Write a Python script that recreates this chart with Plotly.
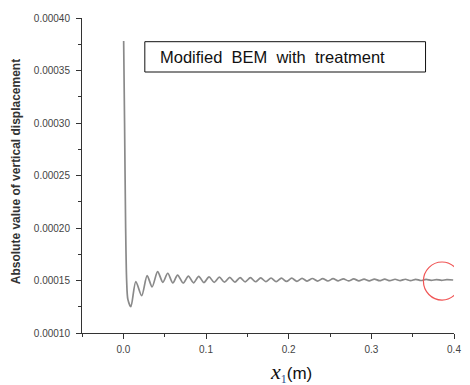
import plotly.graph_objects as go

# Curve (x1 in m, |vertical displacement|) read at extrema of the oscillation
x_vals = [0.0004, 0.0015, 0.0028, 0.0040, 0.0055, 0.0091, 0.0151, 0.0222, 0.0288, 0.0348,
          0.0415, 0.0478, 0.0537, 0.0599, 0.0656, 0.0724, 0.0787, 0.0849, 0.0912, 0.0974,
          0.1037, 0.1099, 0.1162, 0.1224, 0.1287, 0.1349, 0.1412, 0.1474, 0.1537, 0.1599,
          0.1662, 0.1724, 0.1787, 0.1849, 0.1912, 0.1974, 0.2037, 0.2099, 0.2162, 0.2224,
          0.2287, 0.2349, 0.2412, 0.2474, 0.2537, 0.2599, 0.2662, 0.2724, 0.2787, 0.2849,
          0.2912, 0.2974, 0.3037, 0.3099, 0.3162, 0.3224, 0.3287, 0.3349, 0.3412, 0.3474,
          0.3537, 0.3599, 0.3662, 0.3724, 0.3787, 0.3849, 0.3912, 0.3990]
y_vals = [0.0003780, 0.0003000, 0.0002000, 0.0001500, 0.0001320, 0.0001250, 0.0001490, 0.0001355,
          0.0001546, 0.0001440, 0.0001584, 0.0001483, 0.0001569, 0.0001476, 0.0001552, 0.0001476,
          0.0001542, 0.0001478, 0.0001540, 0.0001480, 0.0001535, 0.0001482, 0.0001532, 0.0001484,
          0.0001530, 0.0001485, 0.0001528, 0.0001487, 0.0001527, 0.0001488, 0.0001525, 0.0001489,
          0.0001524, 0.0001490, 0.0001523, 0.0001491, 0.0001522, 0.0001492, 0.0001520, 0.0001494,
          0.0001519, 0.0001494, 0.0001518, 0.0001495, 0.0001517, 0.0001496, 0.0001516, 0.0001496,
          0.0001515, 0.0001497, 0.0001514, 0.0001497, 0.0001514, 0.0001498, 0.0001513, 0.0001498,
          0.0001512, 0.0001499, 0.0001512, 0.0001499, 0.0001511, 0.0001500, 0.0001510, 0.0001501,
          0.0001509, 0.0001502, 0.0001508, 0.0001505]

x_ticks = [0.0, 0.1, 0.2, 0.3, 0.4]
x_ticktext = ["0.0", "0.1", "0.2", "0.3", "0.4"]
y_ticks = [0.00010, 0.00015, 0.00020, 0.00025, 0.00030, 0.00035, 0.00040]
y_ticktext = ["0.00010", "0.00015", "0.00020", "0.00025", "0.00030", "0.00035", "0.00040"]

legend_text = "Modified  BEM  with  treatment"
y_title = "Absolute value of vertical displacement"

# plot area pixels: x 82..461, y 18..333
L, R, T, B = 82, 461, 18, 333
W, H = 470, 385
def px(p):
    return (p - L) / (R - L)
def py(p):
    return (B - p) / (B - T)

fig = go.Figure()
fig.add_trace(go.Scatter(x=x_vals, y=y_vals, mode="lines",
                         line=dict(color="#8a8a8a", width=1.7, shape="spline", smoothing=0.8),
                         hoverinfo="skip", showlegend=False))

tickfont = dict(family="Liberation Sans, Arial, sans-serif", size=10, color="#444")
fig.update_xaxes(range=[-0.05, 0.4], tickvals=x_ticks, ticktext=x_ticktext,
                 showline=True, linecolor="#333", linewidth=1, showgrid=False, zeroline=False,
                 ticks="outside", ticklen=5, tickcolor="#333", tickfont=tickfont,
                 ticklabelstandoff=2,
                 minor=dict(ticks="outside", ticklen=3, dtick=0.05, tickcolor="#333", showgrid=False))
fig.update_yaxes(range=[0.0001, 0.0004], tickvals=y_ticks, ticktext=y_ticktext,
                 showline=True, linecolor="#333", linewidth=1, showgrid=False, zeroline=False,
                 ticks="outside", ticklen=5, tickcolor="#333", tickfont=tickfont,
                 ticklabelstandoff=4,
                 minor=dict(ticks="outside", ticklen=3, dtick=0.000025, tickcolor="#333", showgrid=False))

shapes = [
    dict(type="rect", xref="paper", yref="paper", x0=px(146), x1=px(432), y0=py(72), y1=py(41.7),
         line=dict(color="#111", width=1), fillcolor="white"),
    dict(type="circle", xref="x", yref="y", x0=0.3855 - 0.0225, x1=0.3855 + 0.0225,
         y0=0.0001495 - 0.0000181, y1=0.0001495 + 0.0000181,
         line=dict(color="#f05555", width=1.2)),
]
annotations = [
    dict(text=legend_text, xref="paper", yref="paper", x=px(159), y=py(57),
         xanchor="left", yanchor="middle", showarrow=False,
         font=dict(family="Liberation Sans, Arial, sans-serif", size=16.5, color="#111")),
    dict(text="<b>" + y_title + "</b>", xref="paper", yref="paper", x=px(15), y=py(172),
         xanchor="center", yanchor="middle", textangle=-90, showarrow=False,
         font=dict(family="Liberation Sans, Arial, sans-serif", size=12, color="#333")),
    dict(text='<span style="font-family:Liberation Serif;font-size:22px"><i>x</i></span>'
              '<sub><span style="font-family:Liberation Serif;color:#2a4a8a">1</span></sub>(m)',
         xref="paper", yref="paper", x=px(295), y=py(372), xanchor="center", yanchor="middle",
         showarrow=False, font=dict(family="Liberation Sans, Arial, sans-serif", size=17, color="#111")),
]

fig.update_layout(width=W, height=H, margin=dict(l=L, r=W - R, t=T, b=H - B),
                  paper_bgcolor="white", plot_bgcolor="white",
                  shapes=shapes, annotations=annotations, showlegend=False)

fig.write_html("out.html")
